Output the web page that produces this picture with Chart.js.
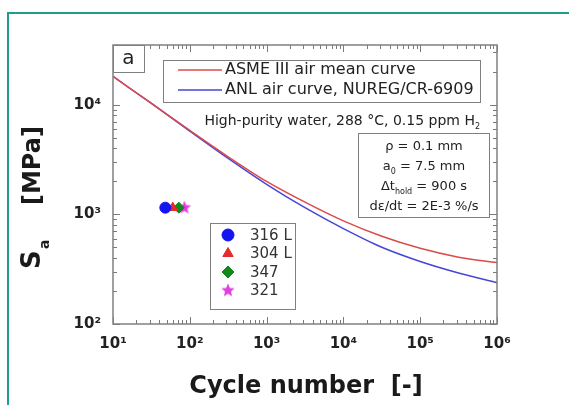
<!DOCTYPE html>
<html>
<head>
<meta charset="utf-8">
<script src="https://cdn.jsdelivr.net/npm/chart.js@4.4.1/dist/chart.umd.min.js"></script>
<style>
  html, body { margin: 0; padding: 0; background: #fff; }
  #wrap { position: relative; width: 569px; height: 405px; overflow: hidden; }
  #frame { position: absolute; left: 7px; top: 12px; width: 700px; height: 600px;
           border-top: 2px solid #1f9c8c; border-left: 2px solid #1f9c8c; }
  canvas { position: absolute; left: 0; top: 0; }
</style>
</head>
<body>
<div id="wrap">
  <div id="frame"></div>
  <canvas id="fatigueChart" width="569" height="405"></canvas>
</div>
<script>
// design curves, stress amplitude (MPa) vs. cycles
const cycles   = [10, 32, 100, 316, 1000, 3162, 1e4, 31623, 1e5, 316228, 1e6];
const asmeMean = [18100, 10200, 5820, 3350, 1995, 1290, 871, 631, 490, 407, 363];
const anlAir   = [18100, 10200, 5750, 3240, 1880, 1150, 741, 501, 372, 292, 238];

// test results per steel grade
const steels       = ["316 L", "304 L", "347", "321"];
const steelCycles  = [48, 60, 72, 85];
const steelSa      = [1150, 1150, 1150, 1150];
const steelColors  = ["#1414f0", "#e52a2a", "#12891a", "#e040e0"];

const xTicks = [10, 100, 1000, 1e4, 1e5, 1e6];
const yTicks = [100, 1000, 1e4];
const noteLines = ["High-purity water, 288 °C, 0.15 ppm H"];

const FONT = "'DejaVu Sans', 'Liberation Sans', Arial, sans-serif";
const SUP = "⁰¹²³⁴⁵⁶⁷⁸⁹";
const pow10 = v => "10" + SUP[Math.round(Math.log10(v))];

function starImage(color, r) {
  const c = document.createElement("canvas");
  c.width = c.height = r * 2 + 2;
  const g = c.getContext("2d");
  g.fillStyle = color;
  g.beginPath();
  for (let i = 0; i < 10; i++) {
    const rad = i % 2 ? r * 0.45 : r;
    const ang = -Math.PI / 2 + i * Math.PI / 5;
    g.lineTo(c.width / 2 + rad * Math.cos(ang), c.height / 2 + rad * Math.sin(ang));
  }
  g.closePath();
  g.fill();
  return c;
}
const steelMarkers = ["circle", "triangle", "rectRot", starImage(steelColors[3], 7)];

// draws text pieces in a row; sub pieces are smaller and lowered
function drawRich(ctx, parts, x, y, size, align) {
  const fontOf = p => (p.sub ? Math.round(size * 0.6) : size) + "px " + FONT;
  let w = 0;
  parts.forEach(p => { ctx.font = fontOf(p); w += ctx.measureText(p.t).width; });
  let cx = align === "center" ? x - w / 2 : align === "right" ? x - w : x;
  ctx.textAlign = "left";
  parts.forEach(p => {
    ctx.font = fontOf(p);
    ctx.fillText(p.t, cx, p.sub ? y + size * 0.3 : y);
    cx += ctx.measureText(p.t).width;
  });
}

const decorations = {
  id: "decorations",
  afterDraw(chart) {
    const { ctx, chartArea: a, scales: { x, y } } = chart;
    ctx.save();

    // inward ticks on all four sides
    ctx.strokeStyle = "#7a7a7a";
    ctx.lineWidth = 1;
    ctx.beginPath();
    for (let e = 1; e <= 6; e++) {
      for (let m = 1; m < 10; m++) {
        const v = m * Math.pow(10, e);
        if (v > 1e6) break;
        const px = Math.round(x.getPixelForValue(v)) + 0.5;
        const len = m === 1 ? 7 : 4;
        ctx.moveTo(px, a.bottom); ctx.lineTo(px, a.bottom - len);
        ctx.moveTo(px, a.top); ctx.lineTo(px, a.top + len);
      }
    }
    for (let e = 2; e <= 4; e++) {
      for (let m = 1; m < 10; m++) {
        const v = m * Math.pow(10, e);
        if (v > y.max) break;
        const py = Math.round(y.getPixelForValue(v)) + 0.5;
        const len = m === 1 ? 7 : 4;
        ctx.moveTo(a.left, py); ctx.lineTo(a.left + len, py);
        ctx.moveTo(a.right, py); ctx.lineTo(a.right - len, py);
      }
    }
    ctx.stroke();

    // plot frame
    ctx.strokeStyle = "#808080";
    ctx.lineWidth = 1.5;
    ctx.strokeRect(a.left, a.top, a.right - a.left, a.bottom - a.top);

    // panel letter
    ctx.lineWidth = 1;
    ctx.fillStyle = "#fff";
    ctx.fillRect(a.left, a.top, 31, 27);
    ctx.strokeRect(a.left + 0.5, a.top + 0.5, 31, 27);
    ctx.fillStyle = "#222";
    ctx.font = "20px " + FONT;
    ctx.textAlign = "center";
    ctx.textBaseline = "middle";
    ctx.fillText("a", a.left + 15.5, a.top + 14);

    // curve legend
    const curves = chart.data.datasets.slice(0, 2);
    ctx.fillStyle = "#fff";
    ctx.fillRect(163, 60, 317, 42);
    ctx.strokeStyle = "#808080";
    ctx.strokeRect(163.5, 60.5, 317, 42);
    ctx.font = "16px " + FONT;
    ctx.textAlign = "left";
    curves.forEach((d, i) => {
      const ly = 70 + i * 20;
      ctx.strokeStyle = d.borderColor;
      ctx.lineWidth = 1.5;
      ctx.beginPath(); ctx.moveTo(178, ly); ctx.lineTo(222, ly); ctx.stroke();
      ctx.fillStyle = "#222";
      ctx.fillText(d.label, 225, ly);
    });

    // test condition note
    ctx.fillStyle = "#222";
    ctx.textBaseline = "alphabetic";
    drawRich(ctx, [{ t: noteLines[0] }, { t: "2", sub: true }], 480, 125, 14, "right");

    // specimen parameters
    ctx.fillStyle = "#fff";
    ctx.fillRect(358, 133, 131, 84);
    ctx.strokeStyle = "#808080";
    ctx.lineWidth = 1;
    ctx.strokeRect(358.5, 133.5, 131, 84);
    ctx.fillStyle = "#222";
    const params = [
      [{ t: "ρ = 0.1 mm" }],
      [{ t: "a" }, { t: "0", sub: true }, { t: " = 7.5 mm" }],
      [{ t: "Δt" }, { t: "hold", sub: true }, { t: " = 900 s" }],
      [{ t: "dε/dt = 2E-3 %/s" }]
    ];
    params.forEach((p, i) => drawRich(ctx, p, 424, 150 + i * 20, 13, "center"));

    // steel grade legend
    ctx.fillStyle = "#fff";
    ctx.fillRect(210, 223, 85, 86);
    ctx.strokeStyle = "#808080";
    ctx.strokeRect(210.5, 223.5, 85, 86);
    ctx.font = "15px " + FONT;
    ctx.textBaseline = "middle";
    chart.data.datasets.slice(2).forEach((d, i) => {
      const ly = 235 + i * 18.5;
      ctx.fillStyle = d.backgroundColor;
      ctx.strokeStyle = d.borderColor;
      Chart.helpers.drawPoint(ctx, { pointStyle: d.pointStyle, radius: 6, borderWidth: 1, rotation: 0 }, 228, ly);
      ctx.fillStyle = "#333";
      ctx.textAlign = "left";
      ctx.fillText(d.label, 250, ly + 1);
    });

    // axis titles
    ctx.fillStyle = "#1a1a1a";
    ctx.textBaseline = "alphabetic";
    ctx.textAlign = "center";
    ctx.font = "bold 24px " + FONT;
    ctx.fillText("Cycle number  [-]", 306, 393);

    ctx.translate(40, 269);
    ctx.rotate(-Math.PI / 2);
    ctx.textAlign = "left";
    ctx.font = "bold 26px " + FONT;
    ctx.fillText("S", 0, 0);
    ctx.font = "bold 14px " + FONT;
    ctx.fillText("a", 20, 9);
    ctx.font = "bold 24px " + FONT;
    ctx.fillText("[MPa]", 64, 0);

    ctx.restore();
  }
};

const curveSets = [
  { label: "ASME III air mean curve", values: asmeMean, color: "#dc4a4a" },
  { label: "ANL air curve, NUREG/CR-6909", values: anlAir, color: "#4646d6" }
].map(c => ({
  label: c.label,
  data: cycles.map((n, i) => ({ x: n, y: c.values[i] })),
  borderColor: c.color,
  backgroundColor: c.color,
  borderWidth: 1.5,
  pointRadius: 0,
  cubicInterpolationMode: "monotone"
}));

const steelSets = steels.map((s, i) => ({
  label: s,
  data: [{ x: steelCycles[i], y: steelSa[i] }],
  showLine: false,
  pointStyle: steelMarkers[i],
  pointRadius: 5.5,
  borderWidth: 1,
  borderColor: steelColors[i],
  backgroundColor: steelColors[i]
}));

const tickFont = { family: FONT, size: 15, weight: "bold" };

new Chart(document.getElementById("fatigueChart"), {
  type: "line",
  data: { datasets: [...curveSets, ...steelSets] },
  plugins: [decorations],
  options: {
    responsive: false,
    animation: false,
    layout: { padding: { top: 45, right: 72, left: 0, bottom: 0 } },
    plugins: { legend: { display: false }, tooltip: { enabled: false } },
    scales: {
      x: {
        type: "logarithmic",
        min: 10,
        max: 1e6,
        afterBuildTicks: s => { s.ticks = xTicks.map(v => ({ value: v })); },
        afterFit: s => { s.height = 81; },
        grid: { display: false, drawTicks: false },
        border: { display: false },
        ticks: { callback: v => pow10(v), font: tickFont, color: "#222", padding: 11, maxRotation: 0, autoSkip: false }
      },
      y: {
        type: "logarithmic",
        min: 100,
        max: 35000,
        afterBuildTicks: s => { s.ticks = yTicks.map(v => ({ value: v })); },
        afterFit: s => { s.width = 113; },
        grid: { display: false, drawTicks: false },
        border: { display: false },
        ticks: { callback: v => pow10(v), font: tickFont, color: "#222", padding: 12, autoSkip: false }
      }
    }
  }
});
</script>
</body>
</html>
